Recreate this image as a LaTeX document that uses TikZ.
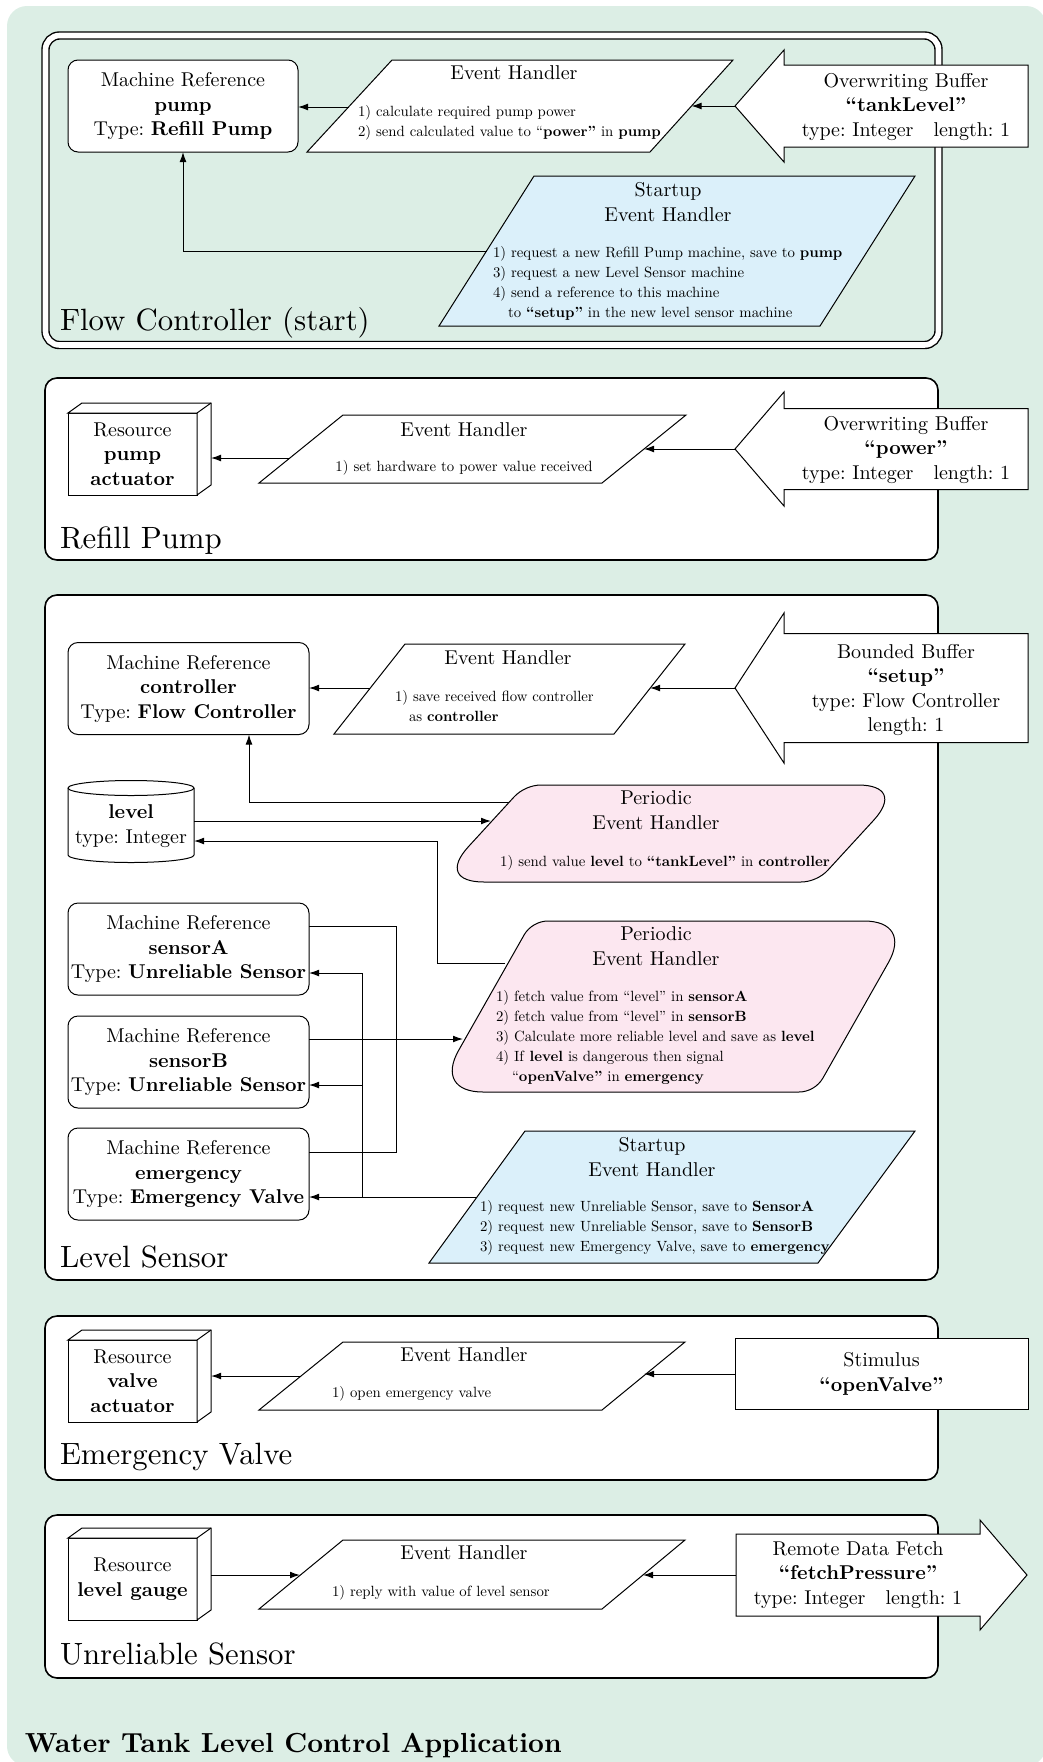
\documentclass[tikz,border=0pt]{standalone}
\usepackage{fontspec}
\setmainfont{lmroman10-regular.otf}[BoldFont=lmroman10-bold.otf, ItalicFont=lmroman10-italic.otf, BoldItalicFont=lmroman10-bolditalic.otf]
\usetikzlibrary{arrows.meta,calc}

\definecolor{bgmint}{RGB}{220,238,229}
\definecolor{startblue}{RGB}{219,240,250}
\definecolor{periodpink}{RGB}{252,231,240}

\tikzset{
  every node/.style={inner sep=0pt, outer sep=0pt},
  txt/.style={font=\fontsize{10}{12.25}\selectfont, align=center},
  itemtxt/.style={font=\fontsize{7.4}{10}\selectfont, align=left},
  bigtxt/.style={font=\fontsize{15.4}{18}\selectfont},
  section/.style={draw, fill=white, line width=0.8pt, rounded corners=6pt},
  mref/.style={draw, line width=0.5pt, rounded corners=5pt, fill=white, align=center,
    font=\fontsize{10}{12.25}\selectfont, minimum height=46pt},
  resbox/.style={draw, line width=0.5pt, fill=white, align=center,
    font=\fontsize{10}{12.25}\selectfont, minimum width=64.5pt, minimum height=41pt},
  shapeline/.style={draw, line width=0.5pt},
  conn/.style={line width=0.5pt},
  arr/.style={line width=0.5pt, -{Latex[length=5pt,width=3.4pt]}},
}

% left-pointing buffer: tip name, tip x, centre y, head base x, head half, shaft half, right x
\newcommand\leftbuffer[7]{%
  \draw[shapeline, fill=white] (#2,#3) -- (#4,{#3-#5}) -- (#4,{#3-#6}) -- (#7,{#3-#6})
    -- (#7,{#3+#6}) -- (#4,{#3+#6}) -- (#4,{#3+#5}) -- cycle;
  \coordinate (#1) at (#2,#3);}
% right-pointing arrow box: tail name, left x, centre y, head base x, head half, shaft half, tip x
\newcommand\rightbuffer[7]{%
  \draw[shapeline, fill=white] (#2,{#3-#6}) -- (#4,{#3-#6}) -- (#4,{#3-#5}) -- (#7,#3)
    -- (#4,{#3+#5}) -- (#4,{#3+#6}) -- (#2,{#3+#6}) -- cycle;
  \coordinate (#1) at (#2,#3);}
% side and top faces of a resource block
\newcommand\cuboidside[1]{%
  \draw[shapeline, fill=white] (#1.north west) -- ++(14,-10) -- ([shift={(14,-10)}]#1.north east)
    -- ([shift={(14,-10)}]#1.south east) -- (#1.south east) -- (#1.north east) -- cycle;
  \draw[shapeline] (#1.north east) -- ++(14,-10);
  \coordinate (#1-side) at ([xshift=7pt]#1.east);}
% parallelogram with rounded corners: name, style, acute cut, obtuse cut
\newcommand\roundpara[4]{%
  \coordinate (#1-c1) at ($(#1-tr)!#3!(#1-tl)$);
  \coordinate (#1-c2) at ($(#1-tr)!#3!(#1-br)$);
  \coordinate (#1-c3) at ($(#1-br)!#4!(#1-tr)$);
  \coordinate (#1-c4) at ($(#1-br)!#4!(#1-bl)$);
  \coordinate (#1-c5) at ($(#1-bl)!#3!(#1-br)$);
  \coordinate (#1-c6) at ($(#1-bl)!#3!(#1-tl)$);
  \coordinate (#1-c7) at ($(#1-tl)!#4!(#1-bl)$);
  \coordinate (#1-c8) at ($(#1-tl)!#4!(#1-tr)$);
  \draw[#2] (#1-c8) -- (#1-c1)
    .. controls ($(#1-c1)!0.6!(#1-tr)$) and ($(#1-c2)!0.6!(#1-tr)$) .. (#1-c2) -- (#1-c3)
    .. controls ($(#1-c3)!0.6!(#1-br)$) and ($(#1-c4)!0.6!(#1-br)$) .. (#1-c4) -- (#1-c5)
    .. controls ($(#1-c5)!0.6!(#1-bl)$) and ($(#1-c6)!0.6!(#1-bl)$) .. (#1-c6) -- (#1-c7)
    .. controls ($(#1-c7)!0.6!(#1-tl)$) and ($(#1-c8)!0.6!(#1-tl)$) .. (#1-c8) -- cycle;}

\begin{document}
\frenchspacing
\begin{tikzpicture}[x=0.5pt, y=-0.5pt]
\useasboundingbox (0,0) rectangle (1043,1762);
\fill[bgmint, rounded corners=10pt] (7,6) rectangle (1046,1766);

% ---------------- Flow Controller (start) ----------------
\draw[double, line width=0.7pt, double distance=2.8pt, rounded corners=7pt] (45.5,35.5) rectangle (938.5,345);
\node[bigtxt, anchor=base west] (fcname) at (60,330) {Flow Controller (start)};

\node[mref, minimum width=115pt] (pump) at (183,106) {Machine Reference\\\textbf{pump}\\Type: \textbf{Refill Pump}};

\coordinate (eh1-bl) at (307,152); \coordinate (eh1-tl) at (392,60);
\coordinate (eh1-tr) at (733,60);  \coordinate (eh1-br) at (650,152);
\draw[shapeline, fill=white] (eh1-bl) -- (eh1-tl) -- (eh1-tr) -- (eh1-br) -- cycle;
\node[txt] (eh1-title) at (514,73) {Event Handler};
\node[itemtxt, anchor=west] (eh1-items) at (358,123) {1) calculate required pump power\\2) send calculated value to “\textbf{power”} in \textbf{pump}};

\leftbuffer{tank-tip}{735}{106}{784}{56}{41}{1028}
\node[txt] (tank) at (906,107) {Overwriting Buffer\\\textbf{“tankLevel”}\\type: Integer\quad length: 1};

\coordinate (st1-bl) at (439,326); \coordinate (st1-tl) at (534,176);
\coordinate (st1-tr) at (915,176); \coordinate (st1-br) at (820,326);
\draw[shapeline, fill=startblue] (st1-bl) -- (st1-tl) -- (st1-tr) -- (st1-br) -- cycle;
\node[txt] (st1-title) at (668,202) {Startup\\Event Handler};
\node[itemtxt, anchor=west] (st1-items) at (493,283) {1) request a new Refill Pump machine, save to \textbf{pump}\\3) request a new Level Sensor machine\\4) send a reference to this machine\\\hspace*{7.5pt}to \textbf{“setup”} in the new level sensor machine};

\coordinate (eh1-w) at (348.5,107);
\coordinate (eh1-e) at (691.5,106);
\coordinate (st1-w) at (486.5,251);
\draw[arr] (eh1-w) -- (eh1-w -| pump.east);
\draw[arr] (tank-tip) -- (eh1-e);
\draw[arr] (st1-w) -| (pump.south);

% ---------------- Refill Pump ----------------
\draw[section] (45,378) rectangle (938,560);
\node[bigtxt, anchor=base west] (rpname) at (60,548) {Refill Pump};
\node[resbox] (pumpres) at (132.5,454) {Resource\\\textbf{pump}\\\textbf{actuator}};
\cuboidside{pumpres}

\coordinate (eh2-bl) at (259,483); \coordinate (eh2-tl) at (343,415);
\coordinate (eh2-tr) at (686,415); \coordinate (eh2-br) at (602,483);
\draw[shapeline, fill=white] (eh2-bl) -- (eh2-tl) -- (eh2-tr) -- (eh2-br) -- cycle;
\node[txt] (eh2-title) at (464,430) {Event Handler};
\node[itemtxt] (eh2-items) at (464,468) {1) set hardware to power value received};

\leftbuffer{power-tip}{735}{449}{784}{57}{40.5}{1028}
\node[txt] (power) at (906,450) {Overwriting Buffer\\\textbf{“power”}\\type: Integer\quad length: 1};

\coordinate (eh2-w) at (290,458);
\coordinate (eh2-e) at (644,449);
\draw[arr] (eh2-w) -- (eh2-w -| pumpres-side);
\draw[arr] (power-tip) -- (eh2-e);

% ---------------- Level Sensor ----------------
\draw[section] (45,595) rectangle (938,1280);
\node[bigtxt, anchor=base west] (lsname) at (60,1267) {Level Sensor};

\node[mref, minimum width=120.5pt] (ctrl) at (188.5,688.5) {Machine Reference\\\textbf{controller}\\Type: \textbf{Flow Controller}};

\coordinate (eh3-bl) at (334,734); \coordinate (eh3-tl) at (405,644);
\coordinate (eh3-tr) at (685,644); \coordinate (eh3-br) at (614,734);
\draw[shapeline, fill=white] (eh3-bl) -- (eh3-tl) -- (eh3-tr) -- (eh3-br) -- cycle;
\node[txt] (eh3-title) at (508,658) {Event Handler};
\node[itemtxt, anchor=west] (eh3-items) at (395,706.5) {1) save received flow controller\\\hspace*{7pt}as \textbf{controller}};

\leftbuffer{setup-tip}{735}{688}{784}{75}{54.5}{1028}
\node[txt] (setup) at (906,690) {Bounded Buffer\\\textbf{“setup”}\\type: Flow Controller\\length: 1};

\coordinate (eh3-w) at (370,688);
\coordinate (eh3-e) at (650,688);
\draw[arr] (eh3-w) -- (eh3-w -| ctrl.east);
\draw[arr] (setup-tip) -- (eh3-e);

% level store
\draw[shapeline, fill=white] (68,788) -- (68,855)
  arc[start angle=180, end angle=360, x radius=31.5pt, y radius=3.75pt] -- (194,788)
  arc[start angle=0, end angle=180, x radius=31.5pt, y radius=3.75pt] -- cycle;
\draw[shapeline] (68,788) arc[start angle=180, end angle=360, x radius=31.5pt, y radius=3.75pt];
\node[txt] (lvl) at (131,826) {\textbf{level}\\type: Integer};
\coordinate (lvl-out) at (194,821);
\coordinate (lvl-in) at (194,841);

% periodic handler sending the level
\coordinate (p1-tl) at (525,785); \coordinate (p1-tr) at (906,785);
\coordinate (p1-br) at (817,882); \coordinate (p1-bl) at (436,882);
\roundpara{p1}{shapeline, fill=periodpink}{24pt}{8pt}
\node[txt] (p1-title) at (656,810) {Periodic\\Event Handler};
\node[itemtxt] (p1-items) at (665,863) {1) send value \textbf{level} to \textbf{“tankLevel”} in \textbf{controller}};
\coordinate (p1-w1) at (509,802);
\coordinate (p1-w2) at (491,821);
\draw[arr] (lvl-out) -- (p1-w2);
\draw[arr] (p1-w1) -| ([xshift=30.25pt]ctrl.south);

\node[mref, minimum width=120.5pt] (sa) at (188.5,949) {Machine Reference\\\textbf{sensorA}\\Type: \textbf{Unreliable Sensor}};
\node[mref, minimum width=120.5pt] (sb) at (188.5,1062) {Machine Reference\\\textbf{sensorB}\\Type: \textbf{Unreliable Sensor}};
\node[mref, minimum width=120.5pt] (em) at (188.5,1174) {Machine Reference\\\textbf{emergency}\\Type: \textbf{Emergency Valve}};

% periodic handler combining both sensors
\coordinate (p2-tl) at (532,921); \coordinate (p2-tr) at (912,921);
\coordinate (p2-br) at (815,1092); \coordinate (p2-bl) at (435,1092);
\roundpara{p2}{shapeline, fill=periodpink}{24pt}{8pt}
\node[txt] (p2-title) at (656,946) {Periodic\\Event Handler};
\node[itemtxt, anchor=west] (p2-items) at (496,1037) {1) fetch value from “level” in \textbf{sensorA}\\2) fetch value from “level” in \textbf{sensorB}\\3) Calculate more reliable level and save as \textbf{level}\\4) If \textbf{level} is dangerous then signal\\\hspace*{8pt}“\textbf{openValve”} in \textbf{emergency}};
\coordinate (p2-w1) at (505,963);
\coordinate (p2-w2) at (463,1039);
\coordinate (bus) at (396,1039);
\draw[conn] ([yshift=11.5pt]sa.east) -| (bus);
\draw[conn] ([yshift=11pt]em.east) -| (bus);
\draw[arr] ([yshift=11.5pt]sb.east) -- (p2-w2);
\draw[arr] (p2-w1) -| ([xshift=121.5pt]lvl-in) -- (lvl-in);

% startup handler creating the machines
\coordinate (st2-tl) at (525,1131); \coordinate (st2-tr) at (915,1131);
\coordinate (st2-br) at (818,1263); \coordinate (st2-bl) at (429,1263);
\draw[shapeline, fill=startblue] (st2-bl) -- (st2-tl) -- (st2-tr) -- (st2-br) -- cycle;
\node[txt] (st2-title) at (652,1157) {Startup\\Event Handler};
\node[itemtxt, anchor=west] (st2-items) at (480,1228) {1) request new Unreliable Sensor, save to \textbf{SensorA}\\2) request new Unreliable Sensor, save to \textbf{SensorB}\\3) request new Emergency Valve, save to \textbf{emergency}};
\coordinate (st2-w) at (477,1197);
\coordinate (sbus) at (362,1197);
\draw[arr] (st2-w) -- (st2-w -| em.east);
\draw[arr] (sbus) |- ([yshift=-12pt]sa.east);
\draw[arr] (sbus) |- ([yshift=-11.5pt]sb.east);

% ---------------- Emergency Valve ----------------
\draw[section] (45,1316) rectangle (938,1480);
\node[bigtxt, anchor=base west] (evname) at (60,1464) {Emergency Valve};
\node[resbox] (valveres) at (132.5,1381) {Resource\\\textbf{valve}\\\textbf{actuator}};
\cuboidside{valveres}

\coordinate (eh4-bl) at (259,1410); \coordinate (eh4-tl) at (343,1342);
\coordinate (eh4-tr) at (685,1342); \coordinate (eh4-br) at (602,1410);
\draw[shapeline, fill=white] (eh4-bl) -- (eh4-tl) -- (eh4-tr) -- (eh4-br) -- cycle;
\node[txt] (eh4-title) at (464,1355) {Event Handler};
\node[itemtxt, anchor=west] (eh4-items) at (332,1394) {1) open emergency valve};

\node[txt, draw, line width=0.5pt, fill=white, minimum width=146.5pt, minimum height=35.5pt] (stim) at (881.5,1374) {Stimulus\\\textbf{“openValve”}};

\coordinate (eh4-w) at (301,1376);
\coordinate (eh4-e) at (644,1374);
\draw[arr] (eh4-w) -- (eh4-w -| valveres-side);
\draw[arr] (stim.west) -- (eh4-e);

% ---------------- Unreliable Sensor ----------------
\draw[section] (45,1515) rectangle (938,1678);
\node[bigtxt, anchor=base west] (usname) at (60,1664) {Unreliable Sensor};
\node[resbox] (gauge) at (132.5,1579) {Resource\\\textbf{level gauge}};
\cuboidside{gauge}

\coordinate (eh5-bl) at (259,1609); \coordinate (eh5-tl) at (343,1540);
\coordinate (eh5-tr) at (685,1540); \coordinate (eh5-br) at (602,1609);
\draw[shapeline, fill=white] (eh5-bl) -- (eh5-tl) -- (eh5-tr) -- (eh5-br) -- cycle;
\node[txt] (eh5-title) at (464,1553) {Event Handler};
\node[itemtxt, anchor=west] (eh5-items) at (332,1593) {1) reply with value of level sensor};

\rightbuffer{rdf-tail}{736}{1575}{980}{55}{41}{1027}
\node[txt] (rdf) at (858,1575) {Remote Data Fetch\\\textbf{“fetchPressure”}\\type: Integer\quad length: 1};

\coordinate (eh5-w) at (300,1575);
\coordinate (eh5-e) at (643,1575);
\draw[arr] (gauge-side |- eh5-w) -- (eh5-w);
\draw[arr] (rdf-tail) -- (eh5-e);

% ---------------- caption ----------------
\node[font=\fontsize{13.8}{16}\selectfont\bfseries, anchor=base west] (apptitle) at (25,1752) {Water Tank Level Control Application};
\end{tikzpicture}
\end{document}
